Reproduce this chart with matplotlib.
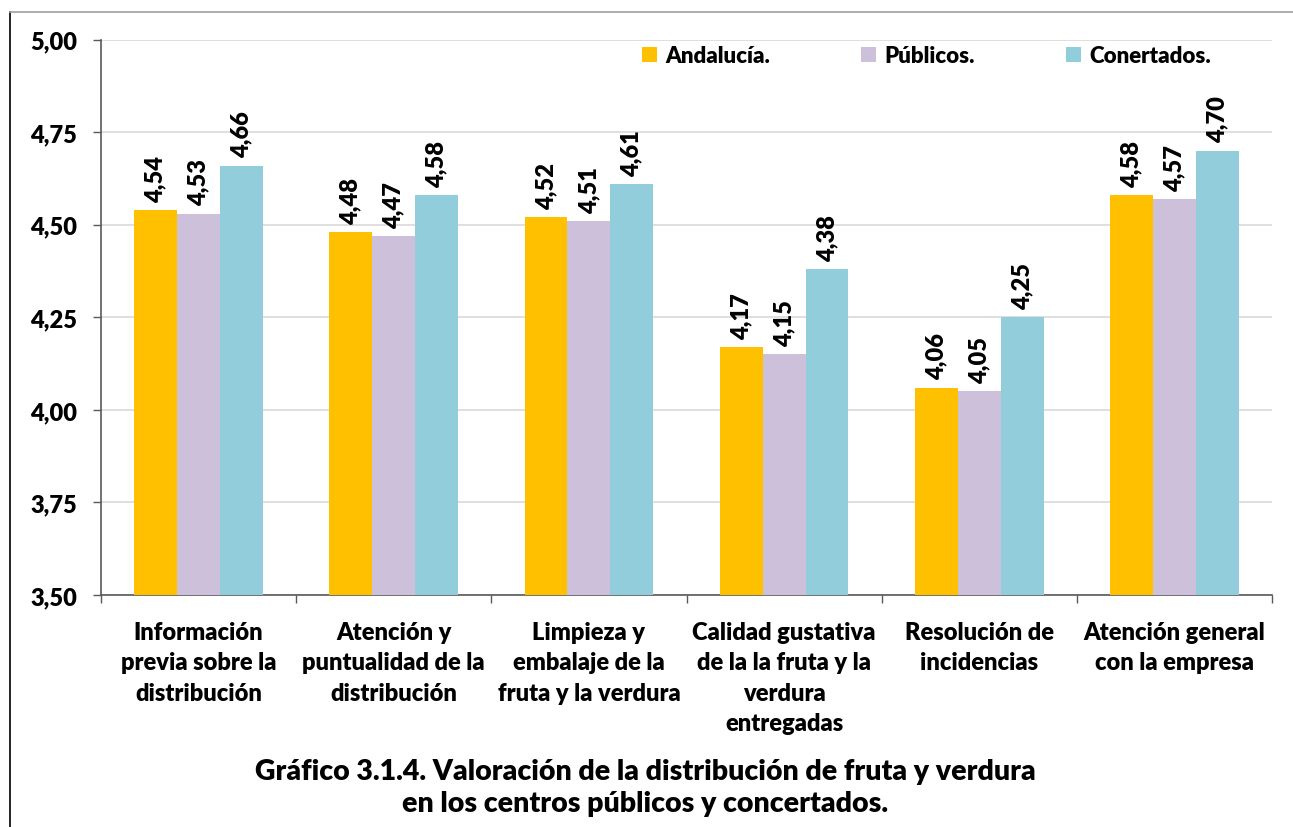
import matplotlib
matplotlib.use("Agg")
import matplotlib.pyplot as plt
from matplotlib.lines import Line2D
import numpy as np

categories = [
    "Información\nprevia sobre la\ndistribución",
    "Atención y\npuntualidad de la\ndistribución",
    "Limpieza y\nembalaje de la\nfruta y la verdura",
    "Calidad gustativa\nde la la fruta y la\nverdura\nentregadas",
    "Resolución de\nincidencias",
    "Atención general\ncon la empresa",
]
series_names = ["Andalucía.", "Públicos.", "Conertados."]
andalucia = [4.54, 4.48, 4.52, 4.17, 4.06, 4.58]
publicos = [4.53, 4.47, 4.51, 4.15, 4.05, 4.57]
concertados = [4.66, 4.58, 4.61, 4.38, 4.25, 4.70]
yticks = [3.50, 3.75, 4.00, 4.25, 4.50, 4.75, 5.00]
title = "Gráfico 3.1.4. Valoración de la distribución de fruta y verdura\nen los centros públicos y concertados."

colors = ["#FFC000", "#CCC0DA", "#92CDDC"]
plt.rcParams['font.family'] = ['Lato', 'DejaVu Sans']
plt.rcParams['font.weight'] = 'bold'

fig = plt.figure(figsize=(12.93, 8.28), dpi=100)
ax = fig.add_axes([101/1293, 1-596/828, (1272-101)/1293, (596-40.7)/828])

x = np.arange(len(categories))
w = 0.22
for i, (vals, name, c) in enumerate(zip([andalucia, publicos, concertados], series_names, colors)):
    pos = x + (i-1)*w
    ax.bar(pos, np.array(vals)-3.5, bottom=3.5, width=w, color=c, label=name, zorder=3)
    for xp, v in zip(pos, vals):
        ax.annotate(f"{v:.2f}".replace(".", ","), (xp, v), xytext=(0, 6), textcoords="offset points",
                    rotation=90, ha="center", va="bottom", fontsize=17, fontweight="heavy")

ax.set_xlim(-0.5, len(categories)-0.5)
ax.set_ylim(3.5, 5.0)
ax.set_yticks(yticks)
ax.set_yticklabels([f"{t:.2f}".replace(".", ",") for t in yticks], fontsize=17, fontweight="heavy")
ax.yaxis.grid(True, color="#D9D9D9", linewidth=1.2, zorder=0)
ax.tick_params(axis="y", length=6, width=1, color="#595959", pad=11)

ax.set_xticks(x)
ax.set_xticklabels(categories, fontsize=17, fontweight="heavy", linespacing=1.45)
ax.tick_params(axis="x", which="major", length=0, pad=19)
ax.set_xticks(np.arange(-0.5, len(categories), 1), minor=True)
ax.tick_params(axis="x", which="minor", length=6, width=1, color="#595959")

for s in ["top", "right"]:
    ax.spines[s].set_visible(False)
for s in ["left", "bottom"]:
    ax.spines[s].set_color("#595959")
    ax.spines[s].set_linewidth(1.2)

leg = ax.legend(loc="upper left", bbox_to_anchor=(530/1171, 1.01), ncol=3, frameon=False,
                prop={"size": 16, "weight": "heavy"}, handlelength=0.65, handleheight=0.65,
                handletextpad=0.4, columnspacing=4.1, borderaxespad=0.1)

fig.text(645/1293, 1-788/828, title, ha="center", va="center", fontsize=20.5, fontweight="heavy",
         linespacing=1.3)

fig.add_artist(Line2D([10/1293, 10/1293], [0, 1-13/828], color="black", linewidth=1.2))
fig.add_artist(Line2D([10/1293, 1], [1-13/828, 1-13/828], color="#A0A0A0", linewidth=1.2))

fig.savefig("out.png", dpi=100)
